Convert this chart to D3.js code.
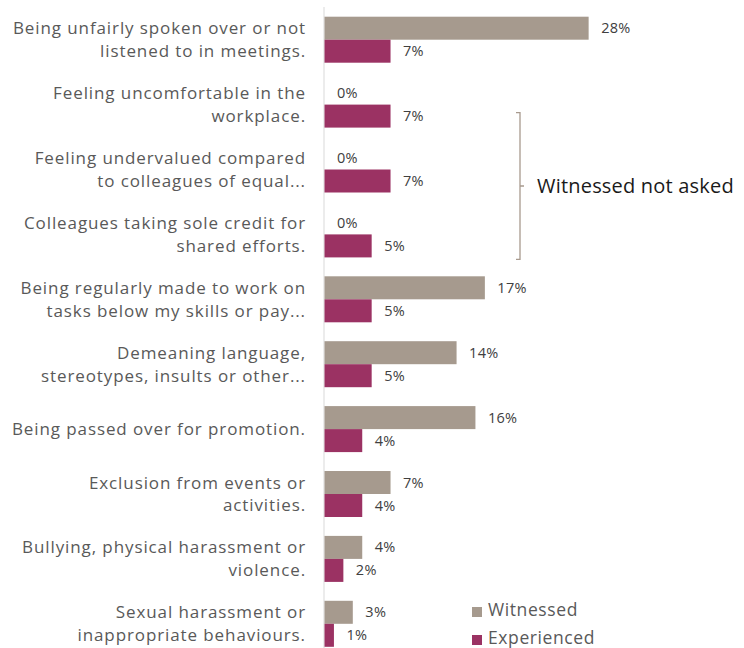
<!DOCTYPE html>
<html>
<head>
<meta charset="utf-8">
<script src="https://cdn.jsdelivr.net/npm/d3@7"></script>
<style>
  html, body { margin: 0; padding: 0; background: #ffffff; }
  svg { display: block; }
</style>
</head>
<body>
<div id="chart"></div>
<script>
// Workplace behaviours: share of respondents who witnessed / experienced each
const categories = [
  "Being unfairly spoken over or not\nlistened to in meetings.",
  "Feeling uncomfortable in the\nworkplace.",
  "Feeling undervalued compared\nto colleagues of equal...",
  "Colleagues taking sole credit for\nshared efforts.",
  "Being regularly made to work on\ntasks below my skills or pay...",
  "Demeaning language,\nstereotypes, insults or other...",
  "Being passed over for promotion.",
  "Exclusion from events or\nactivities.",
  "Bullying, physical harassment or\nviolence.",
  "Sexual harassment or\ninappropriate behaviours."
];
const seriesNames = ["Witnessed", "Experienced"];
const witnessed   = [28, 0, 0, 0, 17, 14, 16, 7, 4, 3];
const experienced = [7, 7, 7, 5, 5, 5, 4, 4, 2, 1];
const bracketNote = "Witnessed not asked";
const notAskedFrom = 1, notAskedTo = 3;

const W = 744, H = 648;
const colors = { Witnessed: "#a69a8e", Experienced: "#9b3263" };
const labelFont = "'Open Sans', Lato, sans-serif";

const rows = categories.map((c, i) => ({
  category: c,
  values: [
    { key: seriesNames[0], value: witnessed[i] },
    { key: seriesNames[1], value: experienced[i] }
  ]
}));

const svg = d3.select("#chart").append("svg")
  .attr("width", W).attr("height", H);

const x = d3.scaleLinear().domain([0, 30]).range([324, 324 + 283]);
const y = d3.scaleBand().domain(categories).range([16.7, 646.8]).paddingInner(0.2912).paddingOuter(0);
const ySub = d3.scaleBand().domain(seriesNames).range([0, y.bandwidth()]);

// baseline axis
svg.append("line")
  .attr("x1", x(0)).attr("x2", x(0))
  .attr("y1", 7).attr("y2", H)
  .attr("stroke", "#d9d9d9").attr("stroke-width", 1);

const groups = svg.append("g").selectAll("g.row")
  .data(rows).join("g")
  .attr("class", "row")
  .attr("transform", d => `translate(0,${y(d.category)})`);

groups.selectAll("rect")
  .data(d => d.values.filter(v => v.value > 0))
  .join("rect")
  .attr("x", x(0) + 0.5)
  .attr("y", v => ySub(v.key))
  .attr("width", v => x(v.value) - x(0))
  .attr("height", ySub.bandwidth())
  .attr("fill", v => colors[v.key]);

groups.selectAll("text.val")
  .data(d => d.values)
  .join("text")
  .attr("class", "val")
  .attr("x", v => x(v.value) + 13)
  .attr("y", v => ySub(v.key) + ySub.bandwidth() / 2)
  .attr("dy", "0.35em")
  .attr("font-family", labelFont)
  .attr("font-size", 14.5)
  .attr("letter-spacing", 0.3)
  .attr("fill", "#404040")
  .text(v => v.value + "%");

// category labels, right aligned, wrapped over up to two lines
groups.append("text")
  .attr("text-anchor", "end")
  .attr("font-family", labelFont)
  .attr("font-size", 17)
  .attr("letter-spacing", 0.9)
  .attr("fill", "#595959")
  .each(function (d) {
    const lines = d.category.split("\n");
    const cy = y.bandwidth() / 2;
    const lh = 23;
    const first = cy - (lines.length - 1) * lh / 2 + 6;
    d3.select(this).selectAll("tspan")
      .data(lines).join("tspan")
      .attr("x", 306)
      .attr("y", (l, i) => first + i * lh)
      .text(l => l);
  });

// bracket for the rows where "witnessed" was not asked
const bx = 520;
const bTop = y(categories[notAskedFrom]) + y.bandwidth() / 2 + 8;
const bBot = y(categories[notAskedTo]) + y.bandwidth() + 2;
const bMid = (bTop + bBot) / 2;
svg.append("path")
  .attr("d", `M${bx - 4},${bTop}H${bx}V${bBot}H${bx - 4}M${bx},${bMid}H${bx + 4}`)
  .attr("fill", "none")
  .attr("stroke", "#a89a8e")
  .attr("stroke-width", 1.3);
svg.append("text")
  .attr("x", 537).attr("y", bMid)
  .attr("dy", "0.35em")
  .attr("font-family", labelFont)
  .attr("font-size", 20)
  .attr("letter-spacing", 0.2)
  .attr("fill", "#1a1a1a")
  .text(bracketNote);

// legend
const legend = svg.append("g").selectAll("g")
  .data(seriesNames).join("g")
  .attr("transform", (d, i) => `translate(472,${607 + i * 28})`);
legend.append("rect")
  .attr("width", 10).attr("height", 10)
  .attr("fill", d => colors[d]);
legend.append("text")
  .attr("x", 16).attr("y", 9)
  .attr("font-family", labelFont)
  .attr("font-size", 17.5)
  .attr("letter-spacing", 0.6)
  .attr("fill", "#595959")
  .text(d => d);
</script>
</body>
</html>
